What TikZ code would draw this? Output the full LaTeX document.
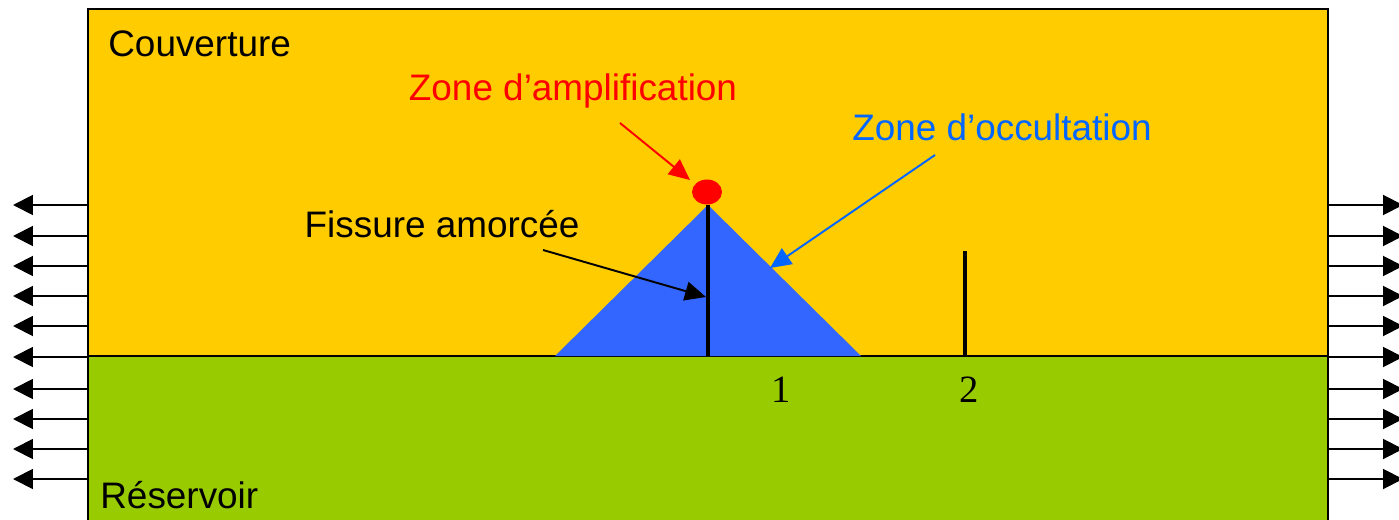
\documentclass[tikz,border=0pt]{standalone}
\usepackage{fontspec}
\setmainfont{Liberation Sans}
\newfontfamily\digitfont{Liberation Serif}
\usetikzlibrary{arrows.meta}

\definecolor{couvcol}{HTML}{FFCC00}
\definecolor{rescol}{HTML}{99CC00}
\definecolor{zonecol}{HTML}{3366FF}
\definecolor{occcol}{HTML}{0066FF}
\definecolor{ampcol}{HTML}{FF0000}

\tikzset{
  lbl/.style={font=\fontsize{21}{25}\selectfont, inner sep=0pt},
  numlbl/.style={font=\digitfont\fontsize{22}{26}\selectfont, inner sep=0pt},
  load/.style={line width=1.1pt, -{Triangle[length=0.4cm, width=0.4cm]}},
  pointer/.style={line width=1.1pt, -{Triangle[length=0.42cm, width=0.38cm]}},
  crack/.style={line width=2.8pt}
}

\begin{document}
\begin{tikzpicture}[x=0.02cm, y=-0.02cm]
\useasboundingbox (0,0) rectangle (1399,520);
% layers
\fill[couvcol] (88,9) rectangle (1328,356);
\fill[rescol] (88,356) rectangle (1328,521);
\draw[line width=1.1pt] (88,521) -- (88,9) -- (1328,9) -- (1328,521);
\draw[line width=1.1pt] (88,356) -- (1328,356);
% far field loading
\foreach \y in {205,236,266,296,326,357,389,419,449,479} {
  \draw[load] (88,\y) -- (13,\y);
  \draw[load] (1328,\y) -- (1403,\y);
}
% shielding zone
\fill[zonecol] (555,356) -- (708,205) -- (861,356) -- cycle;
% cracks
\coordinate (c1top) at (708,205);
\coordinate (c1bot) at (708,356);
\coordinate (c2top) at (965,251);
\coordinate (c2bot) at (965,356);
\draw[crack] (c1top) -- (c1bot);
\draw[crack] (c2top) -- (c2bot);
\fill[ampcol] (707,192) ellipse [x radius=15, y radius=12.5];
% labels
\node[lbl, anchor=base west] (couv) at (108,57) {Couverture};
\node[lbl, anchor=base west] (res) at (100,508) {Réservoir};
\node[lbl, anchor=base, text=ampcol] (amp) at (573,101) {Zone d’amplification};
\node[lbl, anchor=base, text=occcol] (occ) at (1002,141) {Zone d’occultation};
\node[lbl, anchor=base] (fis) at (442,237) {Fissure amorcée};
\node[numlbl, anchor=base] (n1) at (781,402) {1};
\node[numlbl, anchor=base] (n2) at (969,402) {2};
% pointers
\coordinate (ampstart) at (620,123);
\coordinate (amptip) at (690,180);
\coordinate (occstart) at (935,155);
\coordinate (occtip) at (770,268);
\coordinate (fisstart) at (543,250);
\coordinate (fistip) at (706,297);
\draw[pointer, draw=ampcol, fill=ampcol] (ampstart) -- (amptip);
\draw[pointer, draw=occcol, fill=occcol] (occstart) -- (occtip);
\draw[pointer] (fisstart) -- (fistip);
\end{tikzpicture}
\end{document}
